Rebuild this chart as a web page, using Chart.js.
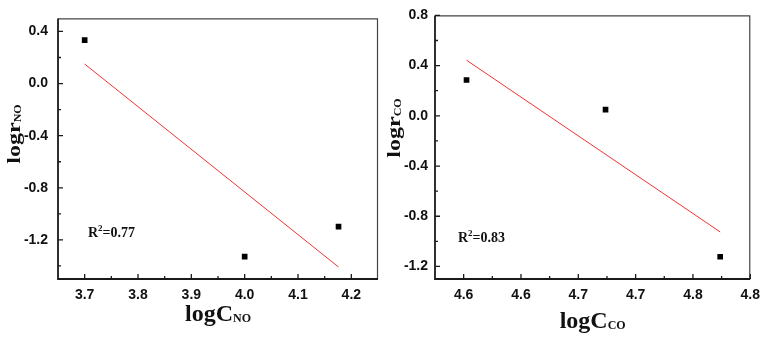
<!DOCTYPE html>
<html>
<head>
<meta charset="utf-8">
<script src="https://cdn.jsdelivr.net/npm/chart.js@4"></script>
<style>
  html, body { margin: 0; padding: 0; background: #fff; }
  #wrap { position: relative; width: 768px; height: 337px; }
  .box { position: absolute; top: 0; width: 384px; height: 337px; }
</style>
</head>
<body>
<div id="wrap">
  <div class="box" style="left:0"><canvas id="chartNO" width="384" height="337"></canvas></div>
  <div class="box" style="left:384px"><canvas id="chartCO" width="384" height="337"></canvas></div>
</div>
<script>
// NO panel
let noX = [3.70, 4.00, 4.176];
let noY = [0.333, -1.328, -1.098];
let noFitX = [3.70, 4.176];
let noFitY = [0.150, -1.408];
let noXTicks = [3.7, 3.8, 3.9, 4.0, 4.1, 4.2];
let noXMinor = [3.75, 3.85, 3.95, 4.05, 4.15];
let noYTicks = [-1.2, -0.8, -0.4, 0.0, 0.4];
let noYMinor = [-1.4, -1.0, -0.6, -0.2, 0.2];

// CO panel
let coX = [4.602, 4.699, 4.779];
let coY = [0.285, 0.049, -1.123];
let coFitX = [4.602, 4.779];
let coFitY = [0.443, -0.925];
let coXTicks = [4.60, 4.64, 4.68, 4.72, 4.76, 4.80];
let coXMinor = [4.62, 4.66, 4.70, 4.74, 4.78];
let coYTicks = [-1.2, -0.8, -0.4, 0.0, 0.4, 0.8];
let coYMinor = [-1.0, -0.6, -0.2, 0.2, 0.6];

const serif = '"Liberation Serif", "Times New Roman", serif';
const sans = '"Liberation Sans", Arial, sans-serif';

// label with a subscript, drawn left to right starting at x
let subText = (ctx, x, y, main, sub, size, subSize) => {
  ctx.font = 'bold ' + size + 'px ' + serif;
  let mw = ctx.measureText(main).width;
  ctx.fillText(main, x, y);
  ctx.font = 'bold ' + subSize + 'px ' + serif;
  ctx.fillText(sub, x + mw, y + 1);
  return mw + ctx.measureText(sub).width;
};

let subWidth = (ctx, main, sub, size, subSize) => {
  ctx.font = 'bold ' + size + 'px ' + serif;
  let w = ctx.measureText(main).width;
  ctx.font = 'bold ' + subSize + 'px ' + serif;
  return w + ctx.measureText(sub).width;
};

let framePlugin = {
  id: 'frame',
  afterDraw(chart, args, o) {
    let ctx = chart.ctx;
    let a = chart.chartArea;
    let xs = chart.scales.x, ys = chart.scales.y;
    ctx.save();
    // top and right edges
    ctx.strokeStyle = '#444';
    ctx.lineWidth = 1.2;
    ctx.beginPath();
    ctx.moveTo(a.left, a.top + 0.5);
    ctx.lineTo(a.right - 0.5, a.top + 0.5);
    ctx.lineTo(a.right - 0.5, a.bottom);
    ctx.stroke();
    // left and bottom axes
    ctx.strokeStyle = '#1a1a1a';
    ctx.lineWidth = 1.8;
    ctx.beginPath();
    ctx.moveTo(a.left, a.top);
    ctx.lineTo(a.left, a.bottom);
    ctx.lineTo(a.right, a.bottom);
    ctx.stroke();
    // inward ticks
    ctx.lineWidth = 1.3;
    ctx.beginPath();
    o.xMajor.forEach(v => { let p = xs.getPixelForValue(v); ctx.moveTo(p, a.bottom); ctx.lineTo(p, a.bottom - 5); });
    o.xMinor.forEach(v => { let p = xs.getPixelForValue(v); ctx.moveTo(p, a.bottom); ctx.lineTo(p, a.bottom - 3); });
    o.yMajor.forEach(v => { let p = ys.getPixelForValue(v); ctx.moveTo(a.left, p); ctx.lineTo(a.left + 5, p); });
    o.yMinor.forEach(v => { let p = ys.getPixelForValue(v); ctx.moveTo(a.left, p); ctx.lineTo(a.left + 3, p); });
    ctx.stroke();

    ctx.fillStyle = '#111';
    ctx.textBaseline = 'alphabetic';
    ctx.textAlign = 'left';
    // R^2 note
    ctx.font = 'bold 14px ' + serif;
    let x = o.noteX, y = o.noteY;
    ctx.fillText('R', x, y);
    x += ctx.measureText('R').width;
    ctx.font = 'bold 9px ' + serif;
    ctx.fillText('2', x, y - 6);
    x += ctx.measureText('2').width;
    ctx.font = 'bold 14px ' + serif;
    ctx.fillText(o.note, x, y);

    // x title
    let w = subWidth(ctx, 'logC', o.sub, 24, 12);
    subText(ctx, (a.left + a.right) / 2 - w / 2, o.xTitleY, 'logC', o.sub, 24, 12);

    // y title, rotated and a little narrow
    ctx.translate(o.yTitleX, o.yTitleY);
    ctx.rotate(-Math.PI / 2);
    ctx.scale(1, 0.8);
    w = subWidth(ctx, 'logr', o.sub, 24, 12);
    subText(ctx, -w / 2, 0, 'logr', o.sub, 24, 12);
    ctx.restore();
  }
};

let scatterchart = (element, px, py, fx, fy, axes, pad, deco) => {
  let chart = new Chart(element, {
    type: 'scatter',
    data: {
      datasets: [{
        data: px.map((v, i) => ({x: v, y: py[i]})),
        pointStyle: 'rect',
        pointRadius: 4,
        pointBorderWidth: 0,
        backgroundColor: '#000',
        borderColor: '#000'
      }, {
        data: fx.map((v, i) => ({x: v, y: fy[i]})),
        showLine: true,
        pointRadius: 0,
        borderColor: 'rgb(240,50,50)',
        borderWidth: 1
      }]
    },
    options: {
      responsive: false,
      animation: false,
      layout: { padding: pad },
      plugins: {
        legend: { display: false },
        tooltip: { enabled: false },
        frame: deco
      },
      scales: {
        x: {
          type: 'linear',
          min: axes.xMin, max: axes.xMax,
          grid: { display: false, drawTicks: false },
          border: { display: false },
          afterBuildTicks: s => { s.ticks = axes.xTicks.map(v => ({value: v})); },
          afterFit: s => { s.height = 58; },
          ticks: {
            padding: 8,
            maxRotation: 0,
            autoSkip: false,
            color: '#111',
            font: { family: sans, size: 14, weight: 'bold' },
            callback: v => Number(v).toFixed(1)
          }
        },
        y: {
          type: 'linear',
          min: axes.yMin, max: axes.yMax,
          grid: { display: false, drawTicks: false },
          border: { display: false },
          afterBuildTicks: s => { s.ticks = axes.yTicks.map(v => ({value: v})); },
          afterFit: s => { s.width = axes.yWidth; },
          ticks: {
            padding: axes.yPad,
            autoSkip: false,
            color: '#111',
            font: { family: sans, size: 14, weight: 'bold' },
            callback: v => Number(v).toFixed(1)
          }
        }
      }
    },
    plugins: [framePlugin]
  });
  return chart;
};

scatterchart(document.getElementById('chartNO').getContext('2d'),
  noX, noY, noFitX, noFitY,
  { xMin: 3.65, xMax: 4.25, yMin: -1.5, yMax: 0.5, xTicks: noXTicks, yTicks: noYTicks, yWidth: 58, yPad: 10 },
  { top: 11, right: 6, left: 0, bottom: 0 },
  { xMajor: noXTicks, xMinor: noXMinor, yMajor: noYTicks, yMinor: noYMinor,
    note: '=0.77', noteX: 88, noteY: 237, sub: 'NO', xTitleY: 321, yTitleX: 20, yTitleY: 134 });

scatterchart(document.getElementById('chartCO').getContext('2d'),
  coX, coY, coFitX, coFitY,
  { xMin: 4.58, xMax: 4.80, yMin: -1.3, yMax: 0.8, xTicks: coXTicks, yTicks: coYTicks, yWidth: 51, yPad: 7 },
  { top: 11, right: 13, left: 0, bottom: 0 },
  { xMajor: coXTicks, xMinor: coXMinor, yMajor: coYTicks, yMinor: coYMinor,
    note: '=0.83', noteX: 74, noteY: 242, sub: 'CO', xTitleY: 328, yTitleX: 16, yTitleY: 128 });
</script>
</body>
</html>
